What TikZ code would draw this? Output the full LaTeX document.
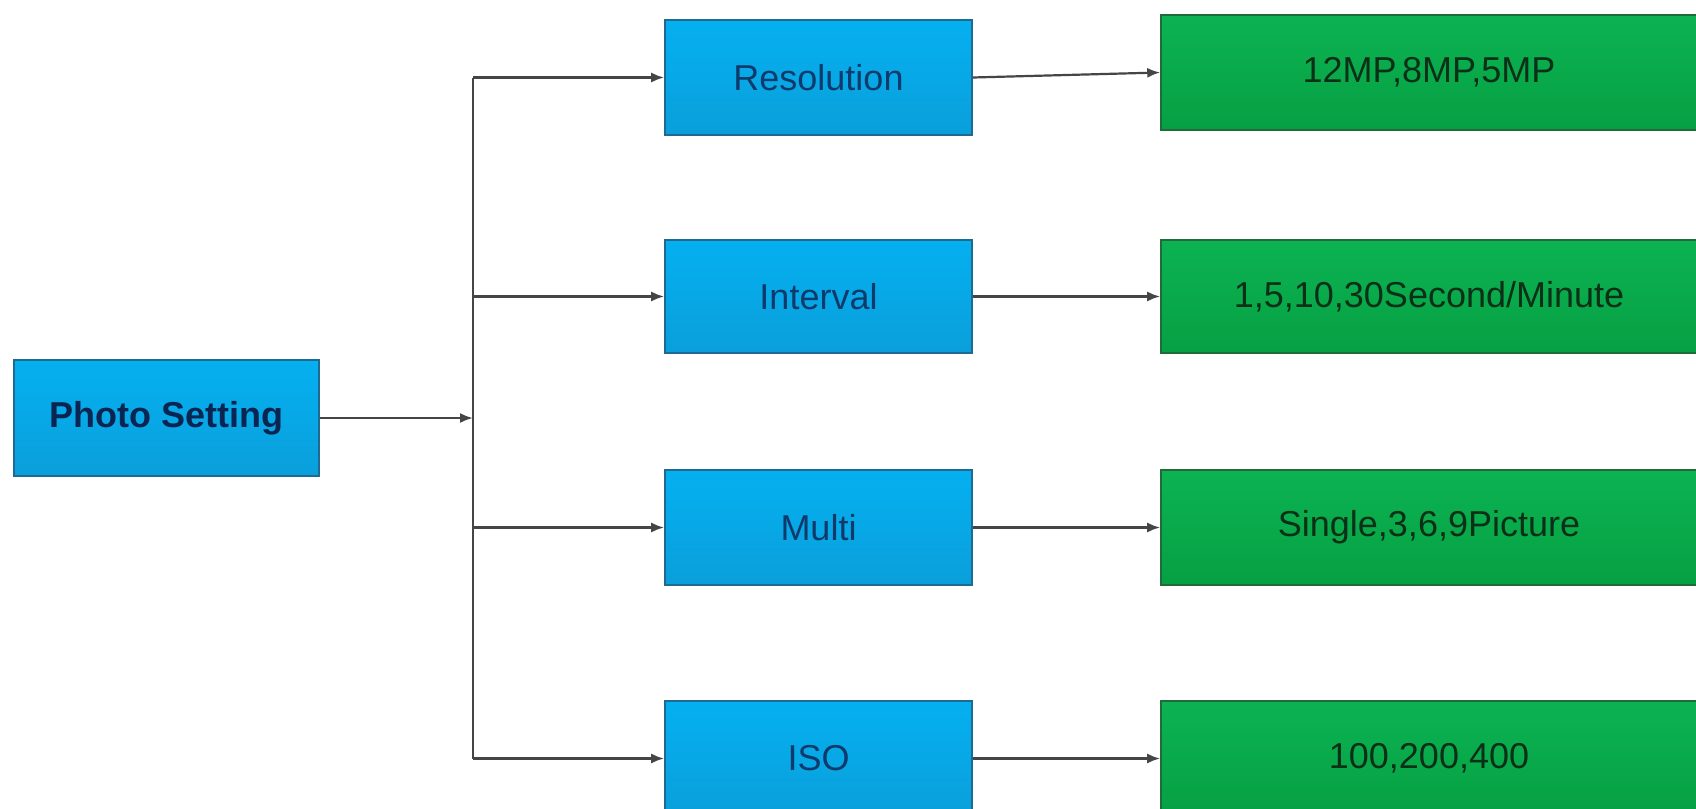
\documentclass[tikz,border=0pt]{standalone}
\usepackage{fontspec}
\setmainfont{Liberation Sans}
\usetikzlibrary{arrows.meta,calc}
\definecolor{bluetop}{HTML}{05B0F0}
\definecolor{bluebot}{HTML}{0A9FDB}
\definecolor{blueedge}{HTML}{1E6A92}
\definecolor{bluetext}{HTML}{0F3A6C}
\definecolor{pstext}{HTML}{0B2552}
\definecolor{greentop}{HTML}{0CB352}
\definecolor{greenbot}{HTML}{06A043}
\definecolor{greenedge}{HTML}{1F6B3A}
\definecolor{greentext}{HTML}{0C3017}
\definecolor{linecol}{HTML}{454545}
\tikzset{
  bluebox/.style={rectangle, draw=blueedge, line width=1.6pt, top color=bluetop, bottom color=bluebot,
    text=bluetext, font=\fontsize{36}{40}\selectfont, inner sep=0pt},
  greenbox/.style={rectangle, draw=greenedge, line width=1.6pt, top color=greentop, bottom color=greenbot,
    text=greentext, font=\fontsize{36}{40}\selectfont, inner sep=0pt},
  conn/.style={draw=linecol, line width=2.2pt},
  arr/.style={conn, -{Latex[length=13pt,width=10pt]}}
}
\begin{document}
\begin{tikzpicture}[x=1pt,y=-1pt]
\useasboundingbox (0,0) rectangle (1696,808);
\clip (0,0) rectangle (1696,808);
\fill[white] (0,0) rectangle (1696,808);
% nodes
\node[bluebox, minimum width=305pt, minimum height=116pt, font=\fontsize{36}{40}\selectfont\bfseries, text=pstext] (ps) at (166.5,418) {Photo Setting};
\node[bluebox, minimum width=307pt, minimum height=115pt] (res) at (818.5,77.5) {Resolution};
\node[bluebox, minimum width=307pt, minimum height=113pt] (int) at (818.5,296.5) {Interval};
\node[bluebox, minimum width=307pt, minimum height=115pt] (mul) at (818.5,527.5) {Multi};
\node[bluebox, minimum width=307pt, minimum height=115pt] (iso) at (818.5,758.5) {ISO};
\node[greenbox, minimum width=536pt, minimum height=115pt] (g1) at (1429,72.5) {12MP,8MP,5MP};
\node[greenbox, minimum width=536pt, minimum height=113pt] (g2) at (1429,296.5) {1,5,10,30Second/Minute};
\node[greenbox, minimum width=536pt, minimum height=115pt] (g3) at (1429,527.5) {Single,3,6,9Picture};
\node[greenbox, minimum width=536pt, minimum height=115pt] (g4) at (1429,758.5) {100,200,400};
% trunk
\coordinate (jt) at (473,418);
\draw[conn] (jt |- res.west) -- (jt |- iso.west);
\draw[arr] (ps.east) -- (jt);
\draw[arr] (jt |- res.west) -- (res.west);
\draw[arr] (jt |- int.west) -- (int.west);
\draw[arr] (jt |- mul.west) -- (mul.west);
\draw[arr] (jt |- iso.west) -- (iso.west);
\draw[arr] (res.east) -- (g1.west);
\draw[arr] (int.east) -- (g2.west);
\draw[arr] (mul.east) -- (g3.west);
\draw[arr] (iso.east) -- (g4.west);
\end{tikzpicture}
\end{document}
